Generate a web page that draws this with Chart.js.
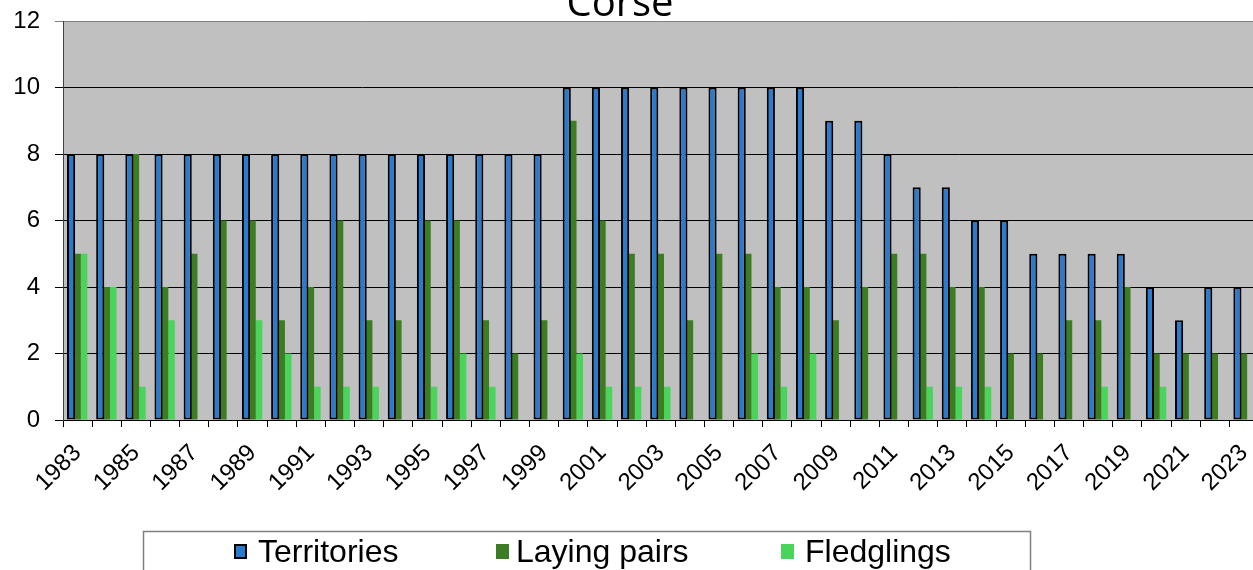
<!DOCTYPE html>
<html>
<head>
<meta charset="utf-8">
<script src="https://cdn.jsdelivr.net/npm/chart.js@4/dist/chart.umd.min.js"></script>
<style>
  html, body { margin: 0; padding: 0; overflow: hidden; background: #ffffff; }
  #wrap { width: 1262px; height: 570px; }
</style>
</head>
<body>
<div id="wrap"><canvas id="c" width="1262" height="570"></canvas></div>
<script>
const title = "Corse";
const years = ["1983","1984","1985","1986","1987","1988","1989","1990","1991","1992",
  "1993","1994","1995","1996","1997","1998","1999","2000","2001","2002",
  "2003","2004","2005","2006","2007","2008","2009","2010","2011","2012",
  "2013","2014","2015","2016","2017","2018","2019","2020","2021","2022","2023"];
const territories = [8,8,8,8,8,8,8,8,8,8, 8,8,8,8,8,8,8,10,10,10, 10,10,10,10,10,10,9,9,8,7, 7,6,6,5,5,5,5,4,3,4,4];
const layingPairs = [5,4,8,4,5,6,6,3,4,6, 3,3,6,6,3,2,3,9,6,5, 5,3,5,5,4,4,3,4,5,5, 4,4,2,2,3,3,4,2,2,2,2];
const fledglings  = [5,4,1,3,0,0,3,2,1,1, 1,0,1,2,1,0,0,2,1,1, 1,0,0,2,1,2,0,0,0,1, 1,1,0,0,0,1,0,1,0,0,0];
const seriesNames = ["Territories", "Laying pairs", "Fledglings"];
const yTicks = [0, 2, 4, 6, 8, 10, 12];

const plotBg = {
  id: 'plotBg',
  beforeDraw(chart) {
    const {ctx, chartArea: a} = chart;
    ctx.save();
    ctx.fillStyle = '#c0c0c0';
    ctx.fillRect(a.left, a.top, a.right - a.left, a.bottom - a.top);
    ctx.restore();
  }
};

const titleAndLegend = {
  id: 'titleAndLegend',
  afterDraw(chart) {
    const ctx = chart.ctx;
    ctx.save();
    ctx.fillStyle = '#000';
    ctx.font = '40px "Open Sans"';
    ctx.textAlign = 'center';
    ctx.textBaseline = 'alphabetic';
    ctx.fillText(title, 620, 16);
    ctx.strokeStyle = '#808080';
    ctx.lineWidth = 1.5;
    ctx.strokeRect(143.5, 531.5, 887, 60);
    const sq = [234, 496, 781];
    const tx = [258, 516, 805];
    ctx.font = '32px "Liberation Sans", Arial, sans-serif';
    ctx.textAlign = 'left';
    chart.data.datasets.forEach((ds, i) => {
      ctx.fillStyle = ds.backgroundColor;
      ctx.fillRect(sq[i], 544, 13, 15);
      if (i === 0) {
        ctx.strokeStyle = '#000';
        ctx.lineWidth = 2;
        ctx.strokeRect(sq[i] + 1, 545, 11, 13);
      }
      ctx.fillStyle = '#000';
      ctx.fillText(ds.label, tx[i], 562);
    });
    ctx.restore();
  }
};

new Chart(document.getElementById('c'), {
  type: 'bar',
  data: {
    labels: years,
    datasets: [
      { label: seriesNames[0], data: territories, backgroundColor: '#2a7acd', borderColor: '#000', borderWidth: 2, borderSkipped: false, barPercentage: 1.25 },
      { label: seriesNames[1], data: layingPairs, backgroundColor: '#3c7d23', borderWidth: 0, barPercentage: 1.0 },
      { label: seriesNames[2], data: fledglings, backgroundColor: '#4ad45b', borderWidth: 0, barPercentage: 1.0 }
    ]
  },
  options: {
    responsive: false,
    animation: false,
    categoryPercentage: 0.67,
    layout: { padding: { top: 21, right: 3.5, bottom: 0, left: 0 } },
    plugins: { legend: { display: false }, title: { display: false }, tooltip: { enabled: false } },
    scales: {
      x: {
        grid: { offset: true, drawOnChartArea: false, drawTicks: true, tickLength: 7, color: '#000' },
        border: { color: '#000' },
        ticks: {
          autoSkip: false, minRotation: 45, maxRotation: 45, padding: 12,
          color: '#000',
          font: { family: '"Liberation Sans", Arial, sans-serif', size: 24 },
          callback: function(v, i) { return i % 2 === 0 ? this.getLabelForValue(v) : ''; }
        },
        afterFit(scale) { scale.height = 150; scale.paddingLeft = 0; scale.paddingRight = 0; }
      },
      y: {
        min: 0, max: 12,
        afterBuildTicks(scale) { scale.ticks = yTicks.map(v => ({ value: v })); },
        grid: {
          color: (c) => (c.tick && c.tick.value === 12) ? '#808080' : '#000',
          tickLength: 8, lineWidth: 1
        },
        border: { color: '#404040' },
        ticks: { padding: 15, color: '#000', font: { family: '"Liberation Sans", Arial, sans-serif', size: 24 } },
        afterFit(scale) { scale.width = 63; scale.paddingTop = 0; scale.paddingBottom = 0; }
      }
    }
  },
  plugins: [plotBg, titleAndLegend]
});
</script>
</body>
</html>
